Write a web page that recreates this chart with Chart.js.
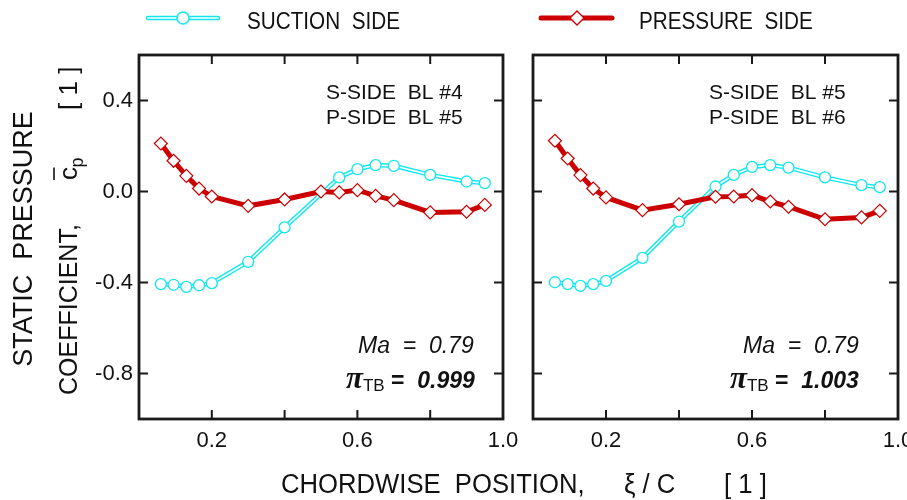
<!DOCTYPE html>
<html>
<head>
<meta charset="utf-8">
<script src="https://cdn.jsdelivr.net/npm/chart.js@4.4.0/dist/chart.umd.min.js"></script>
<style>
  html, body { margin: 0; padding: 0; background: #fff; }
  #wrap { position: relative; width: 907px; height: 500px; }
  canvas { position: absolute; left: 0; top: 0; }
</style>
</head>
<body>
<div id="wrap">
  <canvas id="left" width="907" height="500"></canvas>
  <canvas id="right" width="907" height="500"></canvas>
</div>
<script>
// chordwise stations xi/C
const xPressure = [0.06, 0.095, 0.13, 0.165, 0.2, 0.3, 0.4, 0.5, 0.55, 0.6, 0.65, 0.7, 0.8, 0.9, 0.95];
const xSuctionLeft = [0.06, 0.095, 0.13, 0.165, 0.2, 0.3, 0.4, 0.55, 0.6, 0.65, 0.7, 0.8, 0.9, 0.95];
const xSuctionRight = [0.06, 0.095, 0.13, 0.165, 0.2, 0.3, 0.4, 0.5, 0.55, 0.6, 0.65, 0.7, 0.8, 0.9, 0.95];

// static pressure coefficient, left panel (S-side BL #4 / P-side BL #5)
const cpSuctionLeft = [-0.407, -0.41, -0.419, -0.412, -0.403, -0.309, -0.158, 0.062, 0.098, 0.116, 0.113, 0.073, 0.044, 0.037];
const cpPressureLeft = [0.211, 0.135, 0.069, 0.013, -0.022, -0.063, -0.035, 0.0, -0.004, 0.006, -0.019, -0.038, -0.092, -0.089, -0.059];

// right panel (S-side BL #5 / P-side BL #6)
const cpSuctionRight = [-0.399, -0.407, -0.415, -0.407, -0.393, -0.292, -0.132, 0.022, 0.073, 0.108, 0.116, 0.105, 0.062, 0.028, 0.019];
const cpPressureRight = [0.223, 0.145, 0.072, 0.013, -0.026, -0.082, -0.056, -0.023, -0.022, -0.016, -0.044, -0.067, -0.122, -0.114, -0.085];

const xTicks = [0.2, 0.4, 0.6, 0.8, 1.0];
const xTickLabels = ['0.2', '', '0.6', '', '1.0'];
const yTicks = [-0.8, -0.4, 0, 0.4];
const yTickLabels = ['-0.8', '-0.4', '0.0', '0.4'];

const CYAN = '#10e8ef';
const RED = '#cc0000';
const INK = '#111';
const SANS = '"Liberation Sans", Arial, sans-serif';

function pts(xs, ys) {
  return xs.map((x, i) => ({ x: x, y: ys[i] }));
}

function datasets(xs, sCp, xp, pCp) {
  return [
    { data: pts(xs, sCp), borderColor: CYAN, borderWidth: 4.5, pointRadius: 0, order: 3 },
    { data: pts(xs, sCp), borderColor: '#fff', borderWidth: 1.6, pointRadius: 5.5,
      pointBorderColor: CYAN, pointBackgroundColor: '#fff', pointBorderWidth: 1.3, order: 2 },
    { data: pts(xp, pCp), borderColor: RED, borderWidth: 5, pointStyle: 'rectRot', pointRadius: 6.5,
      pointBorderColor: RED, pointBackgroundColor: '#fff', pointBorderWidth: 1.2, order: 1 }
  ];
}

function txt(ctx, s, x, y, font, sx) {
  ctx.save();
  ctx.font = font;
  ctx.fillStyle = INK;
  ctx.textBaseline = 'alphabetic';
  ctx.textAlign = 'left';
  ctx.translate(x, y);
  ctx.scale(sx || 1, 1);
  ctx.fillText(s, 0, 0);
  const w = ctx.measureText(s).width * (sx || 1);
  ctx.restore();
  return w;
}

// frame and inward ticks
const framePlugin = {
  id: 'frame',
  afterDraw(chart) {
    const ctx = chart.ctx, a = chart.chartArea;
    const xs = chart.scales.x, ys = chart.scales.y;
    ctx.save();
    ctx.strokeStyle = '#1a1a1a';
    ctx.lineWidth = 2;
    ctx.beginPath();
    xTicks.forEach(v => {
      if (v >= 1) return;
      const px = xs.getPixelForValue(v);
      ctx.moveTo(px, a.bottom); ctx.lineTo(px, a.bottom - 9);
      ctx.moveTo(px, a.top); ctx.lineTo(px, a.top + 9);
    });
    yTicks.forEach(v => {
      const py = ys.getPixelForValue(v);
      ctx.moveTo(a.left, py); ctx.lineTo(a.left + 9, py);
      ctx.moveTo(a.right, py); ctx.lineTo(a.right - 9, py);
    });
    ctx.stroke();
    ctx.lineWidth = 2.8;
    ctx.strokeRect(a.left, a.top, a.right - a.left, a.bottom - a.top);
    ctx.restore();
  }
};

function annotate(ctx, bl, x1, x2, x3, piValue) {
  txt(ctx, 'S-SIDE  BL #' + bl[0], x1, 99, '21px ' + SANS);
  txt(ctx, 'P-SIDE  BL #' + bl[1], x1, 124, '21px ' + SANS);
  txt(ctx, 'Ma  =  0.79', x2, 353, 'italic 23px ' + SANS);
  let x = x3;
  x += txt(ctx, 'π', x, 388, 'bold italic 31px "Liberation Serif", serif');
  x += txt(ctx, 'TB', x, 391, '17px ' + SANS);
  x += txt(ctx, ' =  ', x, 388, 'bold 23px ' + SANS);
  txt(ctx, piValue, x, 388, 'bold italic 23px ' + SANS);
}

const leftDecor = {
  id: 'leftDecor',
  afterDraw(chart) {
    const ctx = chart.ctx;
    // legend
    ctx.save();
    ctx.lineCap = 'round';
    ctx.strokeStyle = CYAN; ctx.lineWidth = 4.5;
    ctx.beginPath(); ctx.moveTo(148, 18); ctx.lineTo(218, 18); ctx.stroke();
    ctx.strokeStyle = '#fff'; ctx.lineWidth = 1.6;
    ctx.beginPath(); ctx.moveTo(148, 18); ctx.lineTo(218, 18); ctx.stroke();
    ctx.fillStyle = '#fff'; ctx.strokeStyle = CYAN; ctx.lineWidth = 1.5;
    ctx.beginPath(); ctx.arc(183, 18, 6, 0, Math.PI * 2); ctx.fill(); ctx.stroke();
    ctx.strokeStyle = RED; ctx.lineWidth = 5;
    ctx.beginPath(); ctx.moveTo(541, 18); ctx.lineTo(612, 18); ctx.stroke();
    ctx.fillStyle = '#fff'; ctx.lineWidth = 1.4;
    ctx.beginPath();
    ctx.moveTo(577, 11); ctx.lineTo(584, 18); ctx.lineTo(577, 25); ctx.lineTo(570, 18); ctx.closePath();
    ctx.fill(); ctx.stroke();
    ctx.restore();
    txt(ctx, 'SUCTION  SIDE', 247, 29, '23px ' + SANS, 0.9);
    txt(ctx, 'PRESSURE  SIDE', 639, 29, '23px ' + SANS, 0.9);

    // x axis title
    txt(ctx, 'CHORDWISE  POSITION,', 281, 493, '27px ' + SANS, 0.95);
    txt(ctx, 'ξ / C', 624, 493, '27px ' + SANS, 0.95);
    txt(ctx, '[ 1 ]', 724, 493, '27px ' + SANS, 0.95);

    // y axis title, two rotated lines
    ctx.save();
    ctx.fillStyle = INK;
    ctx.translate(32, 239);
    ctx.rotate(-Math.PI / 2);
    ctx.font = '27px ' + SANS;
    ctx.textAlign = 'center';
    ctx.fillText('STATIC  PRESSURE', 0, 0);
    ctx.restore();

    ctx.save();
    ctx.fillStyle = INK;
    ctx.strokeStyle = INK;
    ctx.translate(77, 0);
    ctx.rotate(-Math.PI / 2);
    ctx.font = '25px ' + SANS;
    ctx.fillText('COEFFICIENT,', -395, 0);
    const cw = ctx.measureText('c').width;
    ctx.font = '26px ' + SANS;
    ctx.fillText('c', -180, 0);
    ctx.lineWidth = 1.6;
    ctx.beginPath(); ctx.moveTo(-180, -23); ctx.lineTo(-180 + cw, -23); ctx.stroke();
    ctx.font = '18px ' + SANS;
    ctx.fillText('p', -180 + cw, 6);
    ctx.font = '26px ' + SANS;
    ctx.fillText('[ 1 ]', -110, 0);
    ctx.restore();

    annotate(ctx, [4, 5], 326, 358, 346, '0.999');
  }
};

const rightDecor = {
  id: 'rightDecor',
  afterDraw(chart) {
    annotate(chart.ctx, [5, 6], 709, 743, 730, '1.003');
  }
};

function options(pad, yWidth, showY) {
  return {
    responsive: false,
    animation: false,
    devicePixelRatio: 1,
    layout: { padding: pad },
    plugins: { legend: { display: false }, tooltip: { enabled: false } },
    elements: { line: { tension: 0 } },
    scales: {
      x: {
        type: 'linear', min: 0, max: 1,
        grid: { display: false, drawTicks: false }, border: { display: false },
        afterBuildTicks: s => { s.ticks = xTicks.map(v => ({ value: v })); },
        afterFit: s => { s.height = 81; s.paddingLeft = 0; s.paddingRight = 0; },
        ticks: {
          autoSkip: false, maxRotation: 0, padding: 9, color: INK,
          font: { family: SANS, size: 22 },
          callback: (v, i) => xTickLabels[i]
        }
      },
      y: {
        type: 'linear', min: -1.0, max: 0.6,
        grid: { display: false, drawTicks: false }, border: { display: false },
        afterBuildTicks: s => { s.ticks = yTicks.map(v => ({ value: v })); },
        afterFit: s => { s.width = yWidth; s.paddingTop = 0; s.paddingBottom = 0; },
        ticks: {
          display: showY, padding: 6, color: INK,
          font: { family: SANS, size: 22 },
          callback: (v, i) => yTickLabels[i]
        }
      }
    }
  };
}

new Chart(document.getElementById('left'), {
  type: 'scatter',
  data: { datasets: datasets(xSuctionLeft, cpSuctionLeft, xPressure, cpPressureLeft).map(d => Object.assign(d, { showLine: true })) },
  options: options({ left: 0, top: 55, right: 404, bottom: 0 }, 139, true),
  plugins: [framePlugin, leftDecor]
});

new Chart(document.getElementById('right'), {
  type: 'scatter',
  data: { datasets: datasets(xSuctionRight, cpSuctionRight, xPressure, cpPressureRight).map(d => Object.assign(d, { showLine: true })) },
  options: options({ left: 533, top: 55, right: 9, bottom: 0 }, 0, false),
  plugins: [framePlugin, rightDecor]
});
</script>
</body>
</html>
